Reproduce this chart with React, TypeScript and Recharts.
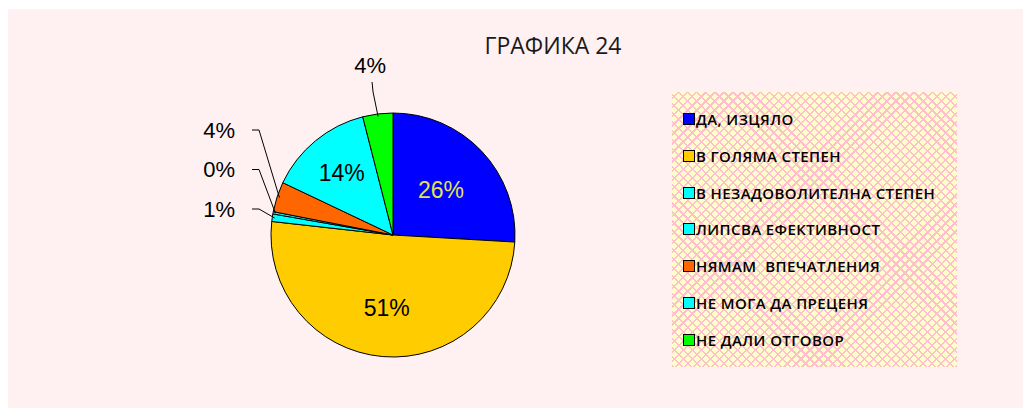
import React from 'react';
import { PieChart, Pie, Cell } from 'recharts';

const categories = [
  'ДА, ИЗЦЯЛО',
  'В ГОЛЯМА СТЕПЕН',
  'В НЕЗАДОВОЛИТЕЛНА СТЕПЕН',
  'ЛИПСВА ЕФЕКТИВНОСТ',
  'НЯМАМ  ВПЕЧАТЛЕНИЯ',
  'НЕ МОГА ДА ПРЕЦЕНЯ',
  'НЕ ДАЛИ ОТГОВОР',
];
const values = [26, 51, 1, 0.3, 4, 14, 4];
const colors = ['#0000ff', '#ffcc00', '#00ffff', '#00ffff', '#ff6600', '#00ffff', '#00ff00'];

// where each percentage label goes
const labelPlacement = ['inside', 'inside', 'left', 'left', 'left', 'inside', 'top'];
const insideRadius: Record<number, number> = { 0: 0.54, 1: 0.6, 5: 0.66 };
const leftRow: Record<number, number> = { 4: 0, 3: 1, 2: 2 };

const data = categories.map((name, i) => ({ name, value: values[i] }));

const RAD = Math.PI / 180;
const labelFont = '"Liberation Sans", Arial, sans-serif';

const renderLabel = (props: any) => {
  const { cx, cy, midAngle, outerRadius, percent, index } = props;
  const text = `${Math.round(percent * 100)}%`;
  const place = labelPlacement[index];
  const cos = Math.cos(-midAngle * RAD);
  const sin = Math.sin(-midAngle * RAD);

  if (place === 'inside') {
    const r = outerRadius * insideRadius[index];
    return (
      <text
        x={cx + r * cos}
        y={cy + r * sin}
        textAnchor="middle"
        dominantBaseline="central"
        fontFamily={labelFont}
        fontSize={23}
        fill={index === 0 ? '#e4e24e' : '#000'}
      >
        {text}
      </text>
    );
  }

  const ex = cx + outerRadius * 0.98 * cos;
  const ey = cy + outerRadius * 0.98 * sin;

  if (place === 'top') {
    const lx = ex - 8;
    const ly = cy - outerRadius - 48;
    return (
      <g>
        <path d={`M${lx + 2},${ly + 17} L${lx + 3},${ly + 27} L${ex},${ey}`} stroke="#000" fill="none" />
        <text x={lx} y={ly} textAnchor="middle" dominantBaseline="central" fontFamily={labelFont} fontSize={22} fill="#000">
          {text}
        </text>
      </g>
    );
  }

  const right = cx - outerRadius - 36;
  const ly = cy - 105 + leftRow[index] * 39.5;
  return (
    <g>
      <path d={`M${right + 17},${ly} H${right + 24} L${ex},${ey}`} stroke="#000" fill="none" />
      <text x={right} y={ly} textAnchor="end" dominantBaseline="central" fontFamily={labelFont} fontSize={22} fill="#000">
        {text}
      </text>
    </g>
  );
};

export default function App() {
  return (
    <div
      style={{
        position: 'relative',
        top: 1,
        width: 1023,
        height: 400,
        background: '#fff1f1',
      }}
    >
      <div style={{ position: 'absolute', left: 0, top: 0 }}>
        <PieChart width={1023} height={400}>
          <Pie
            data={data}
            dataKey="value"
            nameKey="name"
            cx={380}
            cy={221}
            outerRadius={122}
            startAngle={90}
            endAngle={-270}
            stroke="#000"
            strokeWidth={1}
            label={renderLabel}
            labelLine={false}
            isAnimationActive={false}
          >
            {data.map((d, i) => (
              <Cell key={d.name} fill={colors[i]} />
            ))}
          </Pie>
        </PieChart>
      </div>

      <div
        style={{
          position: 'absolute',
          left: 445,
          top: 23,
          width: 200,
          textAlign: 'center',
          fontFamily: '"Open Sans", sans-serif',
          fontSize: 23,
          lineHeight: '26px',
          color: '#1a1a1a',
        }}
      >
        ГРАФИКА 24
      </div>

      <div
        style={{
          position: 'absolute',
          left: 664,
          top: 83,
          width: 285,
          height: 275,
          backgroundColor: '#ffffcc',
          backgroundImage:
            'repeating-linear-gradient(45deg, #ffbfcf 0 1.6px, transparent 1.6px 6.4px), repeating-linear-gradient(-45deg, #ffbfcf 0 1.6px, transparent 1.6px 6.4px)',
        }}
      >
        {categories.map((name, i) => (
          <div
            key={name}
            style={{
              position: 'absolute',
              left: 11,
              top: 27 + i * 36.8 - 10,
              height: 20,
              display: 'flex',
              alignItems: 'center',
              whiteSpace: 'pre',
              fontFamily: '"Open Sans", sans-serif',
              fontSize: 15,
              letterSpacing: '0.4px',
              fontWeight: 600,
              color: '#000',
            }}
          >
            <span
              style={{
                display: 'inline-block',
                width: 10,
                height: 10,
                background: colors[i],
                border: '1px solid #000',
                marginRight: 1,
              }}
            />
            {name}
          </div>
        ))}
      </div>
    </div>
  );
}
